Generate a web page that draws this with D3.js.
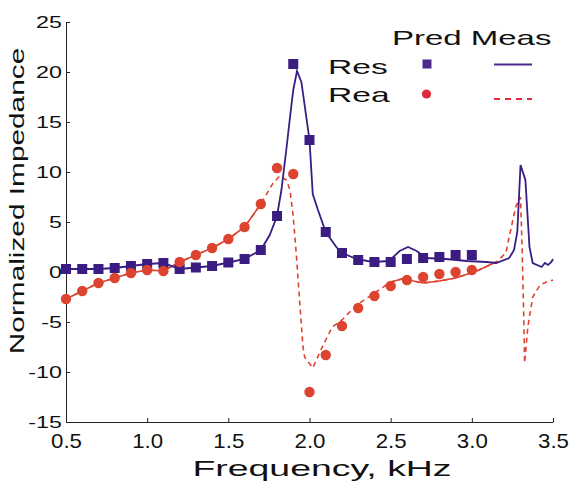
<!DOCTYPE html>
<html>
<head>
<meta charset="utf-8">
<script src="https://cdn.jsdelivr.net/npm/d3@7"></script>
<style>
  body { margin: 0; background: #fff; }
  svg { display: block; font-family: "Liberation Sans", Arial, sans-serif; }
</style>
</head>
<body>
<div id="chart"></div>
<script>
// predicted values (markers), every 0.1 kHz
const predFreq = [0.5, 0.6, 0.7, 0.8, 0.9, 1.0, 1.1, 1.2, 1.3, 1.4, 1.5, 1.6, 1.7,
                  1.8, 1.9, 2.0, 2.1, 2.2, 2.3, 2.4, 2.5, 2.6, 2.7, 2.8, 2.9, 3.0];
const predRes = [0.3, 0.3, 0.3, 0.4, 0.6, 0.8, 0.9, 0.3, 0.45, 0.6, 0.95, 1.3, 2.2,
                 5.6, 20.8, 13.2, 4.0, 1.9, 1.2, 1.0, 1.0, 1.3, 1.4, 1.5, 1.7, 1.7];
const predRea = [-2.7, -1.9, -1.1, -0.6, -0.1, 0.2, 0.1, 1.0, 1.7, 2.4, 3.3, 4.5, 6.8,
                 10.4, 9.8, -12.0, -8.3, -5.4, -3.6, -2.4, -1.4, -0.8, -0.5, -0.2, 0.0, 0.2];

// measured curves (lines)
const measResFreq = [0.5, 0.6, 0.7, 0.8, 0.9, 1.0, 1.1, 1.2, 1.3, 1.4, 1.5, 1.6, 1.7,
  1.755, 1.8, 1.827, 1.857, 1.88, 1.9, 1.923, 1.95, 2.0, 2.02, 2.05, 2.1, 2.165, 2.2,
  2.29, 2.39, 2.49, 2.555, 2.607, 2.66, 2.72, 2.84, 2.97, 3.09, 3.15, 3.23, 3.26, 3.28,
  3.30, 3.33, 3.355, 3.375, 3.43, 3.45, 3.47, 3.49, 3.5];
const measRes = [0.3, 0.3, 0.3, 0.4, 0.6, 0.8, 0.9, 0.3, 0.45, 0.6, 0.95, 1.3, 2.2,
  3.7, 5.6, 8.2, 12.2, 15.5, 18.2, 20.1, 19.0, 13.2, 7.8, 6.3, 4.0, 2.5, 1.9,
  1.3, 1.0, 1.1, 2.1, 2.5, 2.1, 1.4, 1.3, 1.1, 1.0, 0.9, 1.4, 2.2, 4.0,
  10.7, 9.2, 2.5, 0.9, 0.5, 0.9, 0.7, 1.0, 1.3];

const measReaFreq = [0.5, 0.6, 0.7, 0.8, 0.9, 1.0, 1.1, 1.2, 1.3, 1.4, 1.5, 1.6, 1.7,
  1.776, 1.817, 1.857, 1.88, 1.9, 1.92, 1.94, 1.96, 1.97, 2.02, 2.07, 2.1, 2.14, 2.2,
  2.29, 2.41, 2.5, 2.59, 2.64, 2.7, 2.8, 2.9, 3.03, 3.15, 3.21, 3.23, 3.27, 3.30,
  3.31, 3.32, 3.325, 3.345, 3.375, 3.42, 3.46, 3.5];
const measRea = [-2.7, -1.9, -1.1, -0.6, -0.1, 0.2, 0.1, 1.0, 1.7, 2.4, 3.3, 4.5, 6.8,
  8.9, 9.6, 9.2, 8.2, 5.5, 1.5, -3.1, -7.5, -8.5, -9.6, -7.8, -6.8, -5.5, -4.8,
  -3.3, -2.0, -1.0, -0.6, -0.9, -1.1, -0.9, -0.6, 0.1, 1.0, 1.9, 3.5, 6.5, 7.5,
  2.2, -4.5, -9.1, -5.5, -2.5, -1.3, -1.0, -0.8];

const xTicks = [0.5, 1.0, 1.5, 2.0, 2.5, 3.0, 3.5];
const yTicks = [-15, -10, -5, 0, 5, 10, 15, 20, 25];

const width = 576, height = 487;
const margin = {top: 22, right: 23, bottom: 65, left: 66};
const purple = "#3b1c82";
const red = "#dc4430";

const svg = d3.select("#chart").append("svg")
    .attr("width", width)
    .attr("height", height);

const x = d3.scaleLinear().domain([0.5, 3.5]).range([margin.left, width - margin.right]);
const y = d3.scaleLinear().domain([-15, 25]).range([height - margin.bottom, margin.top]);

// stretch text horizontally like the original
function stretch(sel, k) {
  sel.each(function() {
    const w = this.getComputedTextLength();
    d3.select(this).attr("textLength", w * k).attr("lengthAdjust", "spacingAndGlyphs");
  });
}

const xAxis = svg.append("g")
    .attr("transform", `translate(0,${y(-15)})`)
    .call(d3.axisBottom(x).tickValues(xTicks).tickFormat(d3.format(".1f"))
      .tickSize(-4).tickSizeOuter(0).tickPadding(11));
xAxis.selectAll("text").attr("font-size", 21).attr("fill", "#111").attr("font-family", null);
xAxis.call(g => g.select(".domain").attr("stroke", "#222"));
xAxis.selectAll(".tick line").attr("stroke", "#222");
stretch(xAxis.selectAll("text"), 1.06);

const yAxis = svg.append("g")
    .attr("transform", `translate(${x(0.5)},0)`)
    .call(d3.axisLeft(y).tickValues(yTicks).tickFormat(d => String(d))
      .tickSize(-4).tickSizeOuter(0).tickPadding(4));
yAxis.selectAll("text").attr("font-size", 17).attr("fill", "#111").attr("font-family", null);
yAxis.call(g => g.select(".domain").attr("stroke", "#222"));
yAxis.selectAll(".tick line").attr("stroke", "#222");
stretch(yAxis.selectAll("text"), 1.37);

// axis titles
svg.append("text")
    .attr("x", 322).attr("y", 476)
    .attr("text-anchor", "middle")
    .attr("font-size", 22)
    .attr("fill", "#111")
    .text("Frequency, kHz")
    .call(stretch, 1.7);

svg.append("text")
    .attr("transform", "translate(24,201) rotate(-90)")
    .attr("text-anchor", "middle")
    .attr("font-size", 20)
    .attr("fill", "#111")
    .text("Normalized Impedance")
    .call(stretch, 1.49);

// measured lines
const resPts = measResFreq.map((f, i) => [f, measRes[i]]);
const reaPts = measReaFreq.map((f, i) => [f, measRea[i]]);
const line = d3.line().x(d => x(d[0])).y(d => y(d[1]));

svg.append("path")
    .attr("d", line(reaPts))
    .attr("fill", "none")
    .attr("stroke", red)
    .attr("stroke-width", 1.6)
    .attr("stroke-dasharray", "5,4");

// parts of the dashed curve that render as solid in the original
svg.append("path")
    .attr("d", line.defined(d => d[0] <= 1.7 || (d[0] >= 2.5 && d[0] <= 3.15))(reaPts))
    .attr("fill", "none")
    .attr("stroke", red)
    .attr("stroke-width", 1.6);
line.defined(() => true);

svg.append("path")
    .attr("d", line(resPts))
    .attr("fill", "none")
    .attr("stroke", purple)
    .attr("stroke-width", 1.8);

// predicted markers
const sq = 10;
svg.append("g").selectAll("rect")
  .data(predFreq.map((f, i) => [f, predRes[i]]))
  .join("rect")
    .attr("x", d => x(d[0]) - sq / 2)
    .attr("y", d => y(d[1]) - sq / 2)
    .attr("width", sq).attr("height", sq)
    .attr("fill", purple);

svg.append("g").selectAll("circle")
  .data(predFreq.map((f, i) => [f, predRea[i]]))
  .join("circle")
    .attr("cx", d => x(d[0]))
    .attr("cy", d => y(d[1]))
    .attr("r", 5.2)
    .attr("fill", red);

// legend
const legend = svg.append("g").attr("font-size", 21).attr("fill", "#111");
legend.append("text").attr("x", 392).attr("y", 45).text("Pred Meas").call(stretch, 1.57);
legend.append("text").attr("x", 328).attr("y", 74).text("Res").call(stretch, 1.6);
legend.append("text").attr("x", 328).attr("y", 102).text("Rea").call(stretch, 1.6);
legend.append("rect").attr("x", 422.5).attr("y", 59.5).attr("width", 9).attr("height", 9)
    .attr("fill", "#4a2b8c");
legend.append("circle").attr("cx", 426.5).attr("cy", 94).attr("r", 4.6).attr("fill", "#e0283c");
legend.append("line").attr("x1", 494).attr("x2", 532).attr("y1", 64.5).attr("y2", 64.5)
    .attr("stroke", "#4a2b8c").attr("stroke-width", 2);
legend.append("line").attr("x1", 494).attr("x2", 532).attr("y1", 99).attr("y2", 99)
    .attr("stroke", "#e0283c").attr("stroke-width", 2).attr("stroke-dasharray", "6,5");
</script>
</body>
</html>
